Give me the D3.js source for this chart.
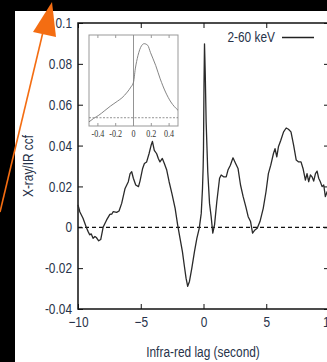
<!DOCTYPE html>
<html>
<head>
<meta charset="utf-8">
<script src="https://cdn.jsdelivr.net/npm/d3@7"></script>
<style>
html,body{margin:0;padding:0;background:#000;overflow:hidden;}
svg{display:block;}
.lab{font-family:'Liberation Sans','Arial',sans-serif;fill:#28334a;}
.ins{font-family:'Liberation Serif','DejaVu Serif',serif;}
</style>
</head>
<body>
<svg id="c" width="327" height="362"></svg>
<script>
// ---- data ----
const lagSeconds = [-10.0,-9.85,-9.6,-9.34,-9.2,-9.07,-8.95,-8.8,-8.65,-8.54,-8.35,-8.19,-8.06,-8.0,-7.72,-7.46,-7.3,-7.19,-6.92,-6.73,-6.52,-6.25,-5.99,-5.85,-5.72,-5.59,-5.4,-5.18,-5.06,-4.85,-4.71,-4.53,-4.34,-4.18,-4.07,-3.92,-3.73,-3.6,-3.47,-3.28,-3.12,-2.93,-2.74,-2.52,-2.26,-2.06,-1.87,-1.68,-1.52,-1.39,-1.26,-1.12,-0.93,-0.72,-0.53,-0.34,-0.18,-0.08,-0.03,0.0,0.04,0.08,0.14,0.21,0.34,0.48,0.61,0.74,0.88,1.06,1.28,1.41,1.6,1.81,1.95,2.14,2.35,2.56,2.75,2.95,3.16,3.37,3.56,3.75,3.91,4.1,4.28,4.5,4.76,4.98,5.17,5.36,5.57,5.7,5.84,5.97,6.16,6.38,6.59,6.77,6.97,7.18,7.39,7.58,7.77,7.93,8.12,8.25,8.38,8.52,8.65,8.78,8.92,9.05,9.18,9.31,9.45,9.58,9.71,9.85,10.0];
const ccfValues = [0.011,0.0075,0.0044,0.0,-0.002,-0.0037,-0.0032,-0.0054,-0.0045,-0.005,-0.0066,-0.006,-0.002,0.0,0.0036,0.0063,0.0065,0.0077,0.0073,0.008,0.0117,0.019,0.0223,0.0263,0.0272,0.024,0.0207,0.0199,0.0226,0.0288,0.0312,0.032,0.036,0.040,0.042,0.0377,0.036,0.0337,0.032,0.0337,0.0312,0.028,0.0223,0.0166,0.0093,0.0012,-0.0054,-0.0119,-0.0192,-0.0249,-0.0289,-0.0265,-0.020,-0.0119,-0.0054,-0.0005,0.0068,0.019,0.029,0.0385,0.07,0.0898,0.075,0.0516,0.0272,0.0117,0.0052,-0.0029,0.0012,0.0125,0.024,0.0256,0.0247,0.0247,0.028,0.0304,0.034,0.0312,0.0288,0.0207,0.015,0.0101,0.0052,0.0028,-0.0029,-0.0013,-0.0005,0.0028,0.0093,0.0174,0.0263,0.0304,0.036,0.0385,0.0345,0.0394,0.0426,0.0467,0.0486,0.048,0.0467,0.0402,0.0329,0.032,0.032,0.0288,0.0231,0.0263,0.0223,0.0256,0.0247,0.0226,0.0263,0.0275,0.024,0.0223,0.0199,0.0207,0.015,0.0174,0.016];

const insetLags = [-0.5,-0.45,-0.39,-0.33,-0.26,-0.18,-0.13,-0.07,-0.03,0.0,0.02,0.05,0.09,0.12,0.16,0.19,0.25,0.3,0.36,0.42,0.5];
const insetCcf = [-0.005,-0.001,0.003,0.008,0.014,0.020,0.024,0.031,0.037,0.043,0.059,0.075,0.087,0.0895,0.0875,0.079,0.063,0.047,0.031,0.019,0.009];

const xTicks = [-10,-5,0,5,10];
const yTicks = [-0.04,-0.02,0,0.02,0.04,0.06,0.08,0.1];
const yTickLabels = ["-0.04","-0.02","0","0.02","0.04","0.06","0.08","0.1"];
const insetTicks = [-0.4,-0.2,0,0.2,0.4];
const insetTickLabels = ["-0.4","-0.2","0","0.2","0.4"];
const seriesName = "2-60 keV";

const NARROW = 0.82;

// ---- layout ----
const svg = d3.select("#c");
svg.append("rect").attr("x",15).attr("y",11).attr("width",312).attr("height",351).attr("fill","#fff");

const L=78, R=329, T=23, B=309;
const x = d3.scaleLinear().domain([-10,10]).range([L,R]);
const y = d3.scaleLinear().domain([-0.04,0.1]).range([B,T]);

const fmtY = (d)=>yTickLabels[yTicks.indexOf(d)];
const gL = svg.append("g").attr("transform",`translate(${L},0)`)
  .call(d3.axisLeft(y).tickValues(yTicks).tickFormat(fmtY).tickSizeInner(-5).tickSizeOuter(0).tickPadding(6));
const gB = svg.append("g").attr("transform",`translate(0,${B})`)
  .call(d3.axisBottom(x).tickValues(xTicks).tickFormat(d3.format("d")).tickSizeInner(-5).tickSizeOuter(0).tickPadding(8));
const gT = svg.append("g").attr("transform",`translate(0,${T})`)
  .call(d3.axisTop(x).tickValues(xTicks).tickFormat("").tickSizeInner(-5).tickSizeOuter(0));
const gR = svg.append("g").attr("transform",`translate(${R},0)`)
  .call(d3.axisRight(y).tickValues(yTicks).tickFormat("").tickSizeInner(-5).tickSizeOuter(0));
[gL,gB,gT,gR].forEach(g=>{
  g.select(".domain").remove();
  g.selectAll(".tick line").attr("stroke","#111").attr("stroke-width",1);
  g.selectAll(".tick text").attr("class","lab").attr("font-size",14.5)
    .style("font-family","'Liberation Sans','Arial',sans-serif").attr("fill","#28334a");
});
gB.selectAll(".tick text").attr("transform",`scale(${NARROW},1)`);
gL.selectAll(".tick text").attr("transform",`translate(-6,0) scale(${NARROW},1) translate(6,0)`);

svg.append("line").attr("x1",L).attr("x2",R).attr("y1",y(0)).attr("y2",y(0))
  .attr("stroke","#111").attr("stroke-width",1.2).attr("stroke-dasharray","4,3");

svg.append("rect").attr("x",L).attr("y",T).attr("width",R-L).attr("height",B-T)
  .attr("fill","none").attr("stroke","#111").attr("stroke-width",1.5);

const pts = lagSeconds.map((d,i)=>[d,ccfValues[i]]);
svg.append("path").datum(pts)
  .attr("d",d3.line().x(d=>x(d[0])).y(d=>y(d[1])))
  .attr("fill","none").attr("stroke","#2a2a2a").attr("stroke-width",1.3).attr("stroke-linejoin","round");

svg.append("text").attr("class","lab").attr("transform",`translate(275,42) scale(${NARROW},1)`)
  .attr("text-anchor","end").attr("font-size",14.5).text(seriesName);
svg.append("line").attr("x1",282).attr("x2",314).attr("y1",37.5).attr("y2",37.5).attr("stroke","#222").attr("stroke-width",1.5);

svg.append("text").attr("class","lab").attr("transform",`translate(203,357) scale(${NARROW},1)`)
  .attr("text-anchor","middle").attr("font-size",14.5).text("Infra-red lag (second)");
svg.append("text").attr("class","lab").attr("transform",`translate(33,166) rotate(-90) scale(${NARROW},1)`)
  .attr("text-anchor","middle").attr("font-size",14.5).text("X-ray/IR ccf");

// ---- inset ----
const iL=89, iR=178, iT=35, iB=126;
const ix = d3.scaleLinear().domain([-0.5,0.5]).range([iL,iR]);
const iy = d3.scaleLinear().domain([-0.01,0.1]).range([iB,iT]);
const ins = svg.append("g");
ins.append("rect").attr("x",iL).attr("y",iT).attr("width",iR-iL).attr("height",iB-iT).attr("fill","#fff").attr("stroke","#999").attr("stroke-width",1);
ins.append("line").attr("x1",ix(0)).attr("x2",ix(0)).attr("y1",iT).attr("y2",iB).attr("stroke","#888").attr("stroke-width",0.9);
ins.append("line").attr("x1",iL).attr("x2",iR).attr("y1",iy(0)).attr("y2",iy(0)).attr("stroke","#777").attr("stroke-width",0.8).attr("stroke-dasharray","2,1.5");
ins.selectAll("line.tk").data(insetTicks.filter(d=>d!==0)).enter().append("line").attr("class","tk")
  .attr("x1",d=>ix(d)).attr("x2",d=>ix(d)).attr("y1",iT).attr("y2",iT+3).attr("stroke","#999");
ins.selectAll("line.tkb").data(insetTicks.filter(d=>d!==0)).enter().append("line").attr("class","tkb")
  .attr("x1",d=>ix(d)).attr("x2",d=>ix(d)).attr("y1",iB).attr("y2",iB-3).attr("stroke","#999");
ins.append("path").datum(insetLags.map((d,i)=>[d,insetCcf[i]]))
  .attr("d",d3.line().curve(d3.curveMonotoneX).x(d=>ix(d[0])).y(d=>iy(d[1])))
  .attr("fill","none").attr("stroke","#777").attr("stroke-width",0.9);
ins.selectAll("text.il").data(insetTicks).enter().append("text").attr("class","ins il")
  .attr("transform",d=>`translate(${ix(d)},137) scale(0.85,1)`).attr("text-anchor","middle").attr("font-size",9.5)
  .attr("fill","#333").text((d,i)=>insetTickLabels[i]);

// ---- orange annotation arrow ----
svg.append("line").attr("x1",0).attr("y1",212).attr("x2",43).attr("y2",32)
  .attr("stroke","#f46d12").attr("stroke-width",1.6);
svg.append("path").attr("d","M52,2 L33,32 L56,37 Z").attr("fill","#f46d12");
</script>
</body>
</html>
